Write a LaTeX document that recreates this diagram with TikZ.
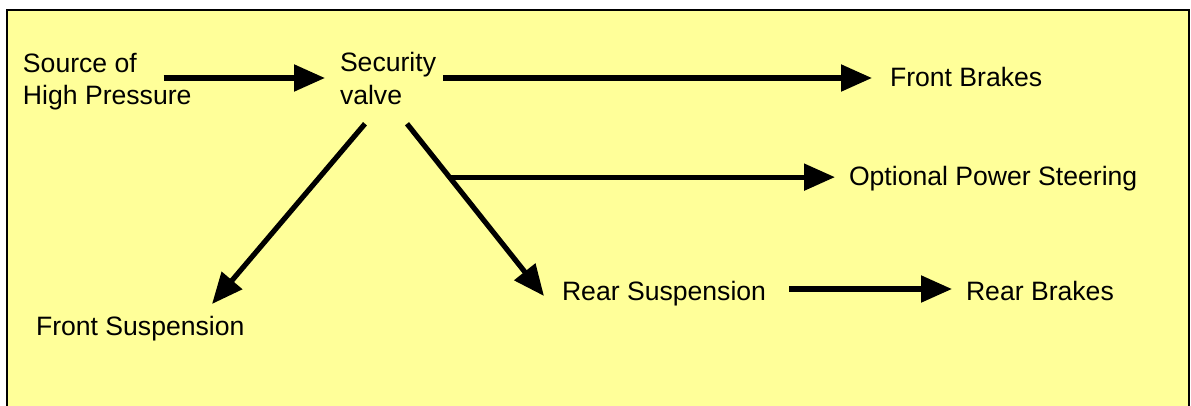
\documentclass[tikz,border=0pt]{standalone}
\usepackage{fontspec}
\setmainfont{Liberation Sans}
\usetikzlibrary{arrows.meta,calc}
\definecolor{bgyellow}{HTML}{FFFF99}
\tikzset{
  lbl/.style={inner sep=0pt, outer sep=0pt, text height=16pt, text depth=0pt, anchor=west,
    font=\fontsize{26.6pt}{32.5pt}\selectfont},
  mlbl/.style={inner sep=0pt, outer sep=0pt, anchor=north west, align=left,
    font=\fontsize{26.6pt}{32.5pt}\selectfont},
  arr/.style={line width=5.2pt, -{Triangle[length=31pt,width=26pt]}},
  frame/.style={draw=black, line width=2pt, fill=bgyellow}
}
\begin{document}
\begin{tikzpicture}[x=1pt,y=-1pt]
\useasboundingbox (0,0) rectangle (1191,405);
\path[frame] (7,10) rectangle (1189,415);
% nodes
\node[mlbl] (src) at (23,53) {Source of\\High Pressure};
\node[mlbl] (sv) at (340,52.7) {Security\\valve};
\node[lbl] (fb) at (890,78) {Front Brakes};
\node[lbl] (ps) at (849,177) {Optional Power Steering};
\node[lbl] (rs) at (562,292) {Rear Suspension};
\node[lbl] (rb) at (966,292) {Rear Brakes};
\node[lbl] (fs) at (36,327) {Front Suspension};
% connectors
\draw[arr] ($(src.east |- fb.west)+(-28,0)$) -- ($(sv.west |- fb.west)+(-15,0)$);
\draw[arr] ($(sv.east |- fb.west)+(7,0)$) -- ($(fb.west)+(-18,0)$);
\coordinate (rsA) at ($(sv.south west)+(67,19)$);
\coordinate (rsB) at ($(rs.west)+(-18,4)$);
\draw[arr] (rsA) -- (rsB);
\draw[arr] ($(sv.south west)+(25,19)$) -- ($(fs.north west)+(176,-15)$);
\coordinate (br) at ($(rsA)!0.31!(rsB)$);
\draw[arr] (br) -- ($(br -| ps.west)+(-14,0)$);
\draw[arr] ($(rs.east)+(23,-3)$) -- ($(rb.west)+(-14,-3)$);
\end{tikzpicture}
\end{document}
